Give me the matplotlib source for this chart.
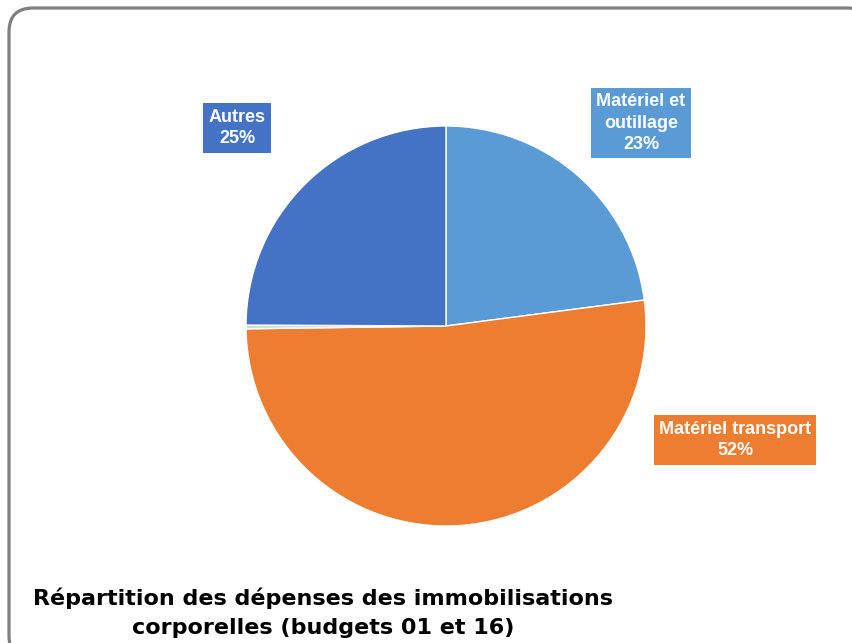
import matplotlib.pyplot as plt
from matplotlib.patches import FancyBboxPatch

# Répartition des dépenses (en %)
categories = ["Matériel et\noutillage", "Matériel transport", "", "Autres"]
valeurs = [23.0, 52.0, 0.3, 25.0]
couleurs = ["#5B9BD5", "#ED7D31", "#D9D9D9", "#4472C4"]
titre = "Répartition des dépenses des immobilisations\ncorporelles (budgets 01 et 16)"

# position des étiquettes (coordonnées du camembert, rayon = 1)
pos_etiquettes = [(0.975, 1.015), (1.445, -0.57), None, (-1.045, 0.99)]

plt.rcParams['font.family'] = ['Liberation Sans', 'DejaVu Sans']

fig = plt.figure(figsize=(8.53, 6.43), dpi=100)

# cadre arrondi autour du graphique
fond = fig.add_axes([0, 0, 1, 1])
fond.set_xlim(0, 853)
fond.set_ylim(643, 0)
fond.axis('off')
cadre = FancyBboxPatch((9, 8), 862, 652, boxstyle="round,pad=0,rounding_size=24",
                       fc='white', ec='#7F7F7F', lw=2.3, clip_on=False)
fond.add_patch(cadre)

ax = fig.add_axes([246 / 853, 117 / 643, 400 / 853, 400 / 643])
ax.pie(valeurs, colors=couleurs, startangle=90, counterclock=False, radius=1,
       wedgeprops=dict(edgecolor='white', linewidth=1))
ax.set_xlim(-1, 1)
ax.set_ylim(-1, 1)
ax.set_aspect('equal')

total = sum(valeurs)
for cat, val, coul, pos in zip(categories, valeurs, couleurs, pos_etiquettes):
    if pos is None:
        continue
    txt = "%s\n%d%%" % (cat, round(val / total * 100))
    ax.text(pos[0], pos[1], txt, ha='center', va='center', color='white',
            fontsize=13, fontweight='bold', linespacing=1.35, clip_on=False,
            bbox=dict(boxstyle='square,pad=0.3', fc=coul, ec='none'))

fig.text(323 / 853, 1 - 613 / 643, titre, ha='center', va='center',
         fontsize=16, fontweight='bold', linespacing=1.55,
         family=['DejaVu Sans'])

fig.savefig('out.png', dpi=100)
